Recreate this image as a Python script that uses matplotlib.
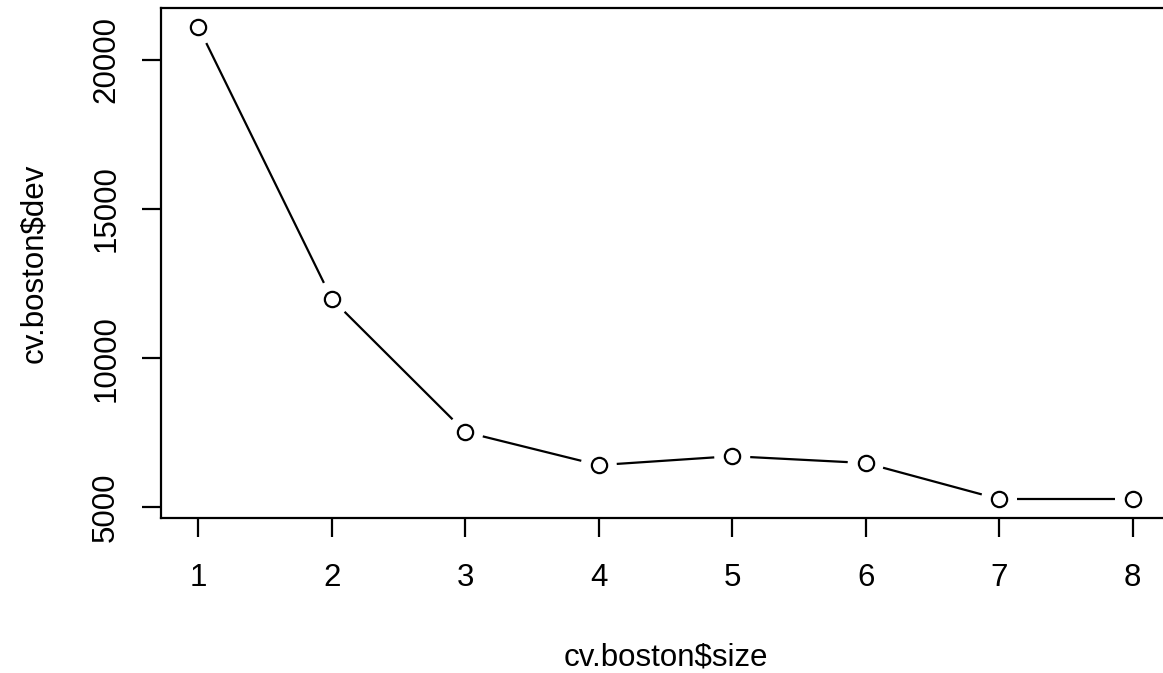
import numpy as np
import matplotlib
matplotlib.use("Agg")
import matplotlib.pyplot as plt

# data
size = [1, 2, 3, 4, 5, 6, 7, 8]
dev = [21110, 11980, 7520, 6410, 6710, 6480, 5270, 5270]
xticks = [1, 2, 3, 4, 5, 6, 7, 8]
yticks = [5000, 10000, 15000, 20000]

W, H = 1163, 673
FS = 22.5
plt.rcParams['font.family'] = ['Liberation Sans', 'DejaVu Sans']
fig = plt.figure(figsize=(W / 100, H / 100), dpi=100)
fig.patch.set_facecolor('white')

left, right, top, bottom = 161, 1170, 8, 518
ax = fig.add_axes([left / W, 1 - bottom / H, (right - left) / W, (bottom - top) / H])

xr = max(size) - min(size)
yr = max(dev) - min(dev)
ax.set_xlim(min(size) - 0.04 * xr, max(size) + 0.04 * xr)
ax.set_ylim(min(dev) - 0.04 * yr, max(dev) + 0.04 * yr)

# lines with gaps around points (R type="b")
gap = 18.0
pts = ax.transData.transform(np.column_stack([size, dev]))
inv = ax.transData.inverted()
for i in range(len(pts) - 1):
    p0, p1 = pts[i], pts[i + 1]
    d = p1 - p0
    L = np.hypot(*d)
    if L <= 2 * gap:
        continue
    u = d / L
    a = inv.transform(p0 + u * gap)
    b = inv.transform(p1 - u * gap)
    ax.plot([a[0], b[0]], [a[1], b[1]], color='black', lw=1.6, solid_capstyle='butt')

ax.plot(size, dev, linestyle='none', marker='o', markersize=11,
        markerfacecolor='white', markeredgecolor='black', markeredgewidth=1.6)

for s in ['top', 'bottom', 'left', 'right']:
    ax.spines[s].set_linewidth(1.6)
    ax.spines[s].set_color('black')

ax.set_xticks(xticks)
ax.set_yticks(yticks)
ax.set_yticklabels([str(v) for v in yticks], rotation=90, va='center')
ax.tick_params(axis='both', length=13.7, width=1.6, labelsize=FS, colors='black')
ax.tick_params(axis='y', pad=15)
ax.tick_params(axis='x', pad=19)

fig.text(666 / W, 1 - 657 / H, 'cv.boston$size', ha='center', va='center', fontsize=FS)
fig.text(34 / W, 1 - 263 / H, 'cv.boston$dev', ha='center', va='center', fontsize=FS, rotation=90)

fig.savefig('out.png', dpi=100, facecolor='white')
